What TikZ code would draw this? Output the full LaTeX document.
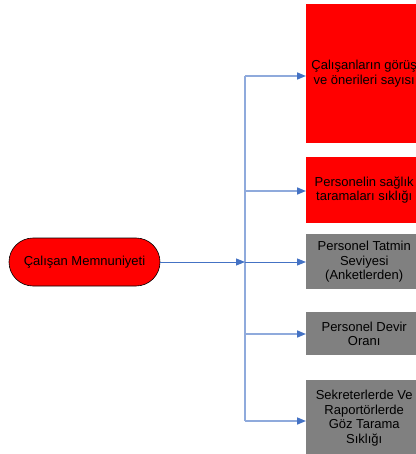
\documentclass[tikz,border=0pt]{standalone}
\usepackage{fontspec}
\setmainfont{Liberation Sans}
\usetikzlibrary{arrows.meta}
\definecolor{lnblue}{HTML}{4472C4}
\definecolor{ltblue}{HTML}{8FAADC}
\definecolor{boxred}{HTML}{FF0000}
\definecolor{boxgray}{HTML}{808080}
\tikzset{
  kpibox/.style={rectangle, inner sep=0pt, minimum width=116pt, anchor=north west,
    align=center, font=\fontsize{13}{14.5}\selectfont, text=black},
  redbox/.style={kpibox, fill=boxred},
  graybox/.style={kpibox, fill=boxgray},
  rootbox/.style={rectangle, rounded corners=24pt, draw=black, line width=0.6pt, fill=boxred,
    minimum width=151pt, minimum height=48pt, inner sep=0pt,
    font=\fontsize{13}{14.5}\selectfont},
  mainarrow/.style={draw=lnblue, line width=1pt, -{Triangle[length=9pt,width=7pt]}},
  brancharrow/.style={draw=ltblue, line width=1.6pt, -{Triangle[length=9pt,width=7pt,fill=lnblue,color=lnblue]}},
  trunk/.style={draw=ltblue, line width=1.6pt}
}
\begin{document}
\begin{tikzpicture}[x=1pt,y=-1pt]
\useasboundingbox (0,0) rectangle (415,454);
% boxes
\node[redbox, minimum height=139pt] (b1) at (306,4) {Çalışanların görüş\\ve önerileri sayısı};
\node[redbox, minimum height=66pt] (b2) at (306,157) {Personelin sağlık\\taramaları sıklığı};
\node[graybox, minimum height=55pt] (b3) at (306,234) {Personel Tatmin\\Seviyesi\\(Anketlerden)};
\node[graybox, minimum height=43pt] (b4) at (306,312) {Personel Devir\\Oranı};
\node[graybox, minimum height=76pt] (b5) at (306,380) {Sekreterlerde Ve\\Raportörlerde\\Göz Tarama\\Sıklığı};
% root
\node[rootbox] (root) at (84.5,262) {Çalışan Memnuniyeti};
% trunk
\coordinate (t1) at (245,76);
\coordinate (t2) at (245,191);
\coordinate (tm) at (245,262);
\coordinate (t4) at (245,334);
\coordinate (t5) at (245,421);
\draw[trunk] (t1) -- (t5);
\draw[brancharrow] (t1) -- (b1.west |- t1);
\draw[brancharrow] (t2) -- (b2.west |- t2);
\draw[brancharrow] (t4) -- (b4.west |- t4);
\draw[brancharrow] (t5) -- (b5.west |- t5);
\draw[mainarrow] (tm) -- (b3.west |- tm);
\draw[mainarrow] (root.east) -- (tm);
\end{tikzpicture}
\end{document}
